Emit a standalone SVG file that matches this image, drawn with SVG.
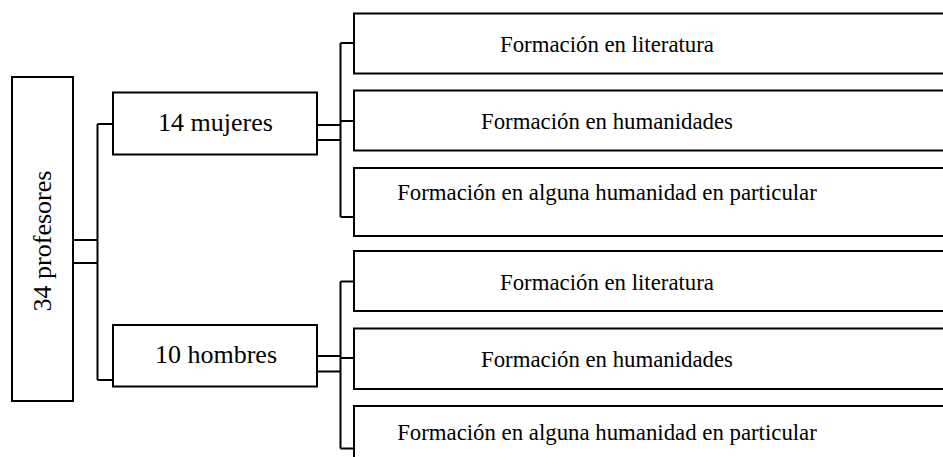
<svg xmlns="http://www.w3.org/2000/svg" width="943" height="457" viewBox="0 0 943 457">
<style>
.box{fill:#fff;stroke:#000;stroke-width:2}
.ln{fill:none;stroke:#000;stroke-width:2}
text{font-family:"Liberation Serif","Times New Roman",serif;fill:#000;text-anchor:middle}
.big{font-size:26px}
.leaf{font-size:22.8px}
</style>
<rect width="943" height="457" fill="#fff"/>
<g id="connectors">
<path class="ln" d="M73 240H97.5M73 263H97.5M97.5 124V380M97.5 124H113M97.5 380H113"/>
<path class="ln" d="M317 125H340.5M317 140H340.5M340.5 43V217M340.5 43H354M340.5 121H354M340.5 217H354"/>
<path class="ln" d="M317 356H340.5M317 371.5H340.5M340.5 281.5V448.5M340.5 281.5H354M340.5 358H354M340.5 448.5H354"/>
</g>
<g id="root"><rect class="box" x="12" y="77" width="61" height="324"/><text class="big" transform="translate(51 241) rotate(-90)">34 profesores</text></g>
<g id="mujeres"><rect class="box" x="113" y="92.5" width="204" height="62"/><text class="big" x="215.5" y="131">14 mujeres</text></g>
<g id="hombres"><rect class="box" x="113" y="325" width="204" height="61.5"/><text class="big" x="216" y="363">10 hombres</text></g>
<g id="m-lit"><rect class="box" x="354" y="13.5" width="600" height="60"/><text class="leaf" x="607" y="51.5">Formación en literatura</text></g>
<g id="m-hum"><rect class="box" x="354" y="90.5" width="600" height="60"/><text class="leaf" x="607" y="128.5">Formación en humanidades</text></g>
<g id="m-part"><rect class="box" x="354" y="168" width="600" height="68"/><text class="leaf" x="607" y="200">Formación en alguna humanidad en particular</text></g>
<g id="h-lit"><rect class="box" x="354" y="251" width="600" height="60"/><text class="leaf" x="607" y="290">Formación en literatura</text></g>
<g id="h-hum"><rect class="box" x="354" y="328.5" width="600" height="60.5"/><text class="leaf" x="607" y="366.5">Formación en humanidades</text></g>
<g id="h-part"><rect class="box" x="354" y="406" width="600" height="70"/><text class="leaf" x="607" y="440">Formación en alguna humanidad en particular</text></g>
</svg>
